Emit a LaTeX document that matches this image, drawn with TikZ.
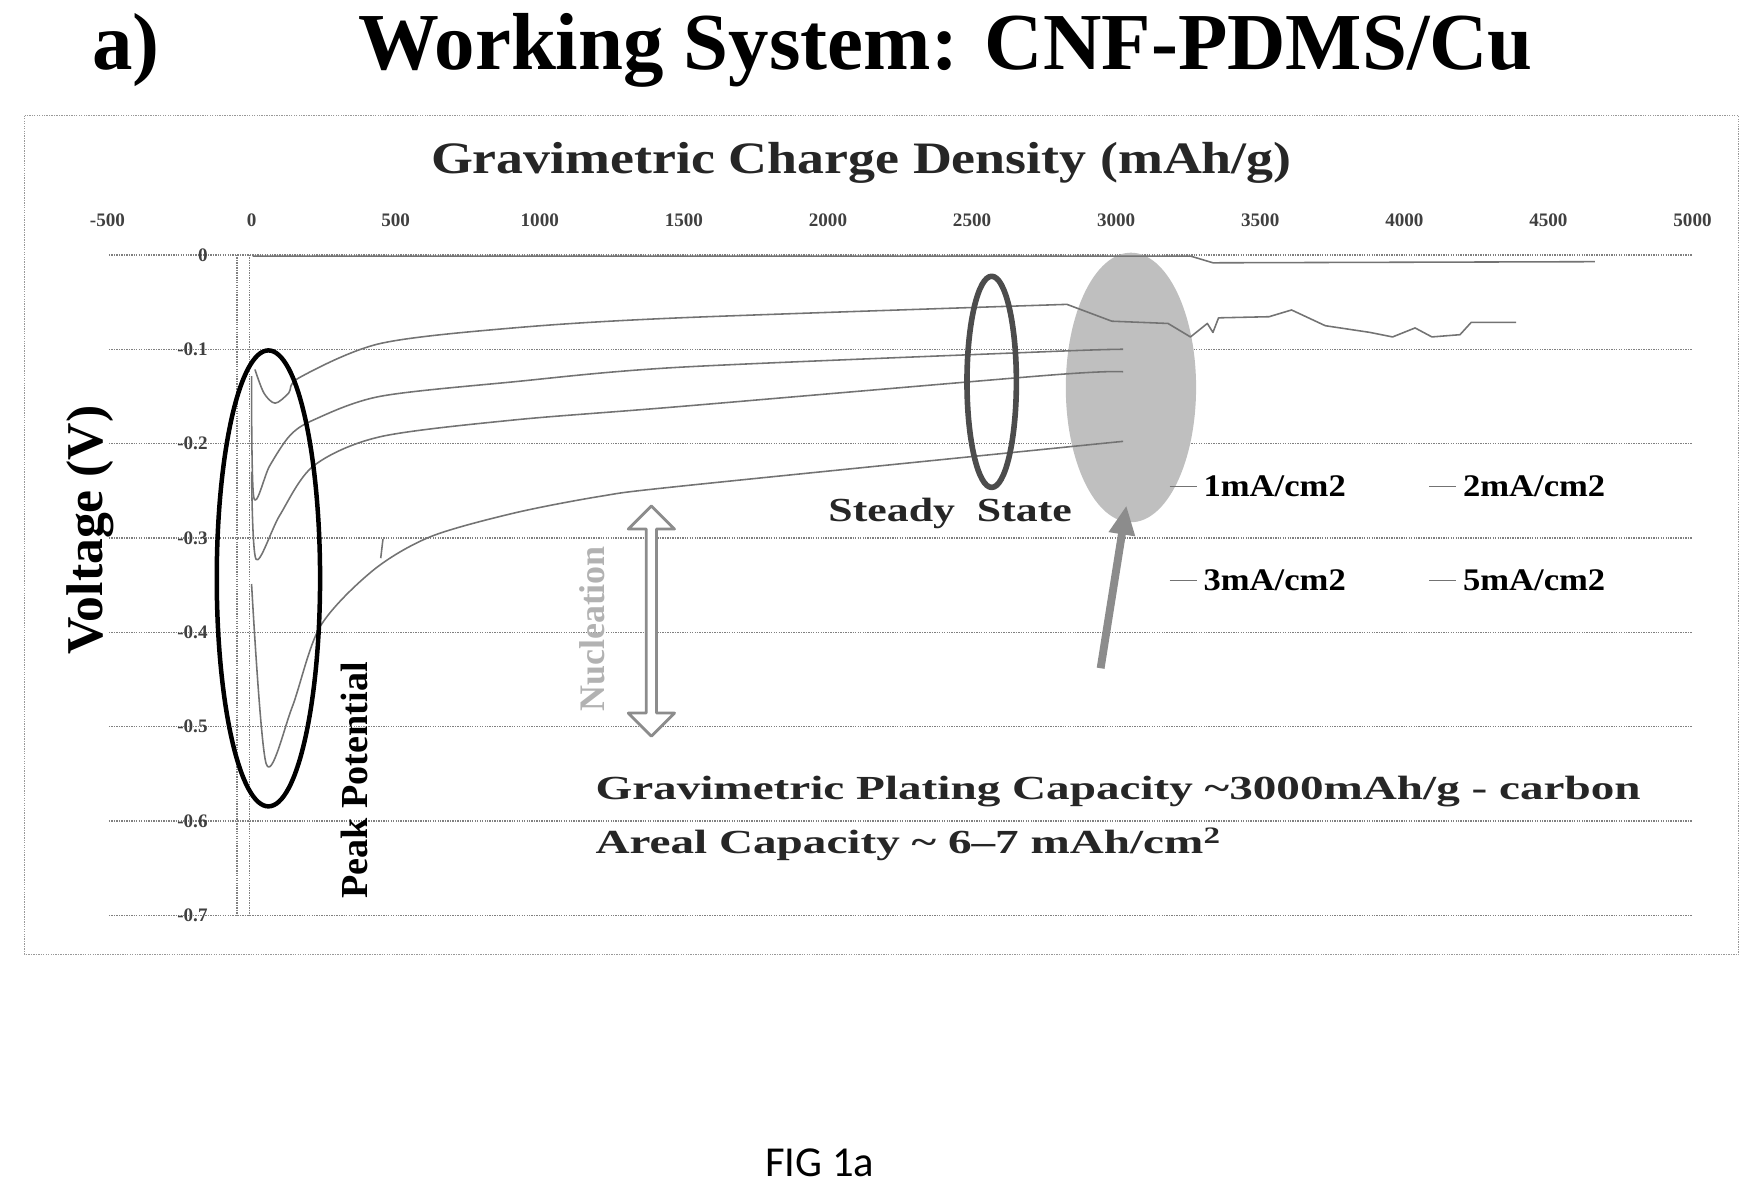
\documentclass[tikz,border=0pt]{standalone}
\usepackage{fontspec}
\setmainfont{Liberation Serif}
\newfontfamily\figfont{Carlito}
\usetikzlibrary{shapes.arrows}
\usetikzlibrary{arrows.meta}
\usetikzlibrary{positioning}

\begin{document}
\begin{tikzpicture}[x=1pt,y=-1pt,line join=round,
  lbl/.style={font=\bfseries\fontsize{30}{32}\selectfont,inner sep=0pt},
  tick/.style={font=\bfseries\fontsize{17}{18}\selectfont,text=black!75,inner sep=0pt},
  grid line/.style={draw=black!50,densely dotted,line width=1.2pt},
  curve/.style={draw=black!55,line width=1.4pt}]

  \useasboundingbox (0,0) rectangle (1560,1063);

  % titles
  \node[font=\bfseries\fontsize{72}{74}\selectfont] at (112,45) (part) {a)};
  \node[font=\bfseries\fontsize{72}{74}\selectfont] at (842,45) (title) {Working System: CNF-PDMS/Cu};
  \draw[black!40,densely dotted,line width=1.2pt] (22,103) rectangle (1548,850);
  \node[font=\bfseries\fontsize{40}{42}\selectfont,text=black!85,xscale=1.2] at (767,145) (xtitle) {Gravimetric Charge Density (mAh/g)};
  \node[font=\bfseries\fontsize{46}{48}\selectfont,rotate=90] at (80,472) (ytitle) {Voltage (V)};

  % grid and ticks
  \foreach \v [count=\i from 0] in {-500,0,500,1000,1500,2000,2500,3000,3500,4000,4500,5000}
    \node[tick] at (224+\v*0.2566,196) (xt\i) {\v};
  \foreach \v [count=\i from 0] in {0,-0.1,-0.2,-0.3,-0.4,-0.5,-0.6,-0.7} {
    \draw[grid line] (97,227+\i*84) -- (1507,227+\i*84);
    \node[tick,anchor=east] at (185,227+\i*84) (yt\i) {\v};
  }
  \draw[grid line] (211,227) -- (211,815);
  \draw[grid line] (222,227) -- (222,815);

  % shaded region
  \fill[black!25] (1007,345) ellipse [x radius=58,y radius=120];

  % curves
  \draw[curve] (225,228) -- (1060,228) -- (1080,234) -- (1420,233);
  \draw[curve] plot[smooth] coordinates {(227,329) (235,350) (245,359) (257,350) (267,336) (338,306) (457,292) (605,283) (950,271)}
    -- (990,286) -- (1040,288) -- (1060,300) -- (1075,288) -- (1080,296) -- (1085,283) -- (1130,282) -- (1150,276) -- (1180,290) -- (1220,296) -- (1240,300) -- (1260,292) -- (1275,300) -- (1300,298) -- (1310,287) -- (1350,287);
  \draw[curve] plot[smooth] coordinates {(224,335) (226,443) (240,415) (258,388) (279,374) (338,353) (457,340) (605,327) (935,313) (1000,311)};
  \draw[curve] plot[smooth] coordinates {(224,420) (228,498) (249,459) (279,415) (338,389) (457,374) (605,362) (935,334) (1000,331)};
  \draw[curve] plot[smooth] coordinates {(224,520) (237,680) (260,630) (285,558) (332,508) (383,478) (457,457) (534,442) (605,433) (950,398) (1000,393)};
  \draw[curve] (339,497) -- (341,480);

  % annotations
  \draw[black,line width=4pt] (239,515) ellipse [x radius=46,y radius=203];
  \draw[black!70,line width=5pt] (883,340) ellipse [x radius=22,y radius=94];
  \node[lbl,rotate=90,font=\bfseries\fontsize{34}{36}\selectfont] at (316,695) (peak) {Peak Potential};
  \node[lbl,text=black!85,xscale=1.3] at (846,457) (steady) {Steady\ \ State};

  \node[double arrow,draw=black!45,fill=white,line width=2.5pt,rotate=90,
    minimum height=205,minimum width=30,double arrow head extend=16,double arrow head indent=0] at (580,553) (nucl) {};
  \node[lbl,rotate=90,text=black!30,font=\bfseries\fontsize{32}{34}\selectfont] at (527,560) (nucltext) {Nucleation};

  \coordinate (tail) at (980,595);
  \coordinate (head) at (1003,450);
  \draw[black!45,line width=7pt,-{Triangle[width=22pt,length=26pt]}] (tail) -- (head);

  % legend
  \foreach \t/\x/\y [count=\k] in {{1mA/cm2}/1135/433,{2mA/cm2}/1366/433,{3mA/cm2}/1135/517,{5mA/cm2}/1366/517} {
    \node[lbl,font=\bfseries\fontsize{28}{30}\selectfont,xscale=1.1] at (\x,\y) (lg\k) {\t};
    \draw[curve] ([xshift=-30pt]lg\k.west) -- ([xshift=-6pt]lg\k.west);
  }

  \node[lbl,anchor=west,text=black!85,xscale=1.4] at (530,705) (grav) {Gravimetric Plating Capacity \textasciitilde3000mAh/g - carbon};
  \node[lbl,anchor=west,text=black!85,xscale=1.4] at (530,752) (areal) {Areal Capacity \textasciitilde\ 6–7 mAh/cm\textsuperscript{2}};

  \node[font=\figfont\fontsize{38}{40}\selectfont] at (730,1035) (fig) {FIG 1a};
\end{tikzpicture}
\end{document}
